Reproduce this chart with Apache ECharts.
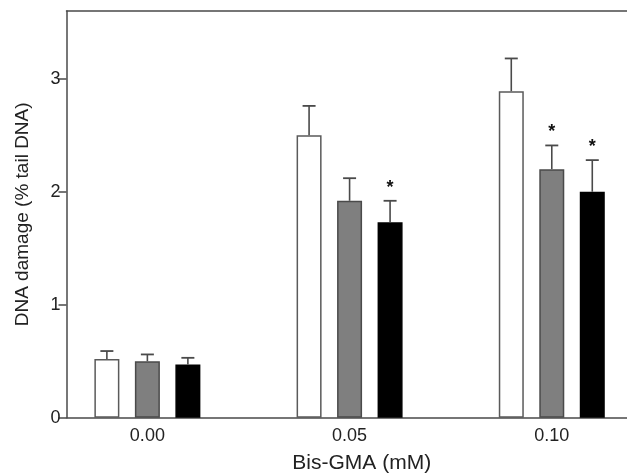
<!DOCTYPE html>
<html>
<head>
<meta charset="utf-8">
<script src="https://cdn.jsdelivr.net/npm/echarts@6/dist/echarts.min.js"></script>
<style>
  html, body { margin: 0; padding: 0; background: #fff; }
  #chart { width: 627px; height: 475px; }
</style>
</head>
<body>
<div id="chart"></div>
<script>
// 横轴分组 (Bis-GMA 浓度)
const categories = ['0.00', '0.05', '0.10'];
const positions = [0, 1, 2];
const yTicks = [0, 1, 2, 3];

// 三组柱子的均值和误差上端
const whiteMean = [0.52, 2.50, 2.89];
const whiteTop  = [0.59, 2.76, 3.18];
const grayMean  = [0.50, 1.92, 2.20];
const grayTop   = [0.56, 2.12, 2.41];
const blackMean = [0.47, 1.73, 2.00];
const blackTop  = [0.53, 1.92, 2.28];

// 显著性标记
const whiteStars = ['', '', ''];
const grayStars  = ['', '', '*'];
const blackStars = ['', '*', '*'];

const barWidth = 25;
const gapRatio = 0.62;
const axisColor = '#4a4a4a';
const textColor = '#222';
const font = 'Liberation Sans, Arial, sans-serif';

const groups = [
  { mean: whiteMean, top: whiteTop, stars: whiteStars, fill: '#ffffff', border: '#5a5a5a' },
  { mean: grayMean, top: grayTop, stars: grayStars, fill: '#7f7f7f', border: '#4a4a4a' },
  { mean: blackMean, top: blackTop, stars: blackStars, fill: '#000000', border: '#000000' }
];

const series = [];
groups.forEach(function (g) {
  series.push({
    type: 'bar',
    data: positions.map(function (p, i) { return [p, g.mean[i]]; }),
    barWidth: barWidth,
    barGap: (gapRatio * 100) + '%',
    itemStyle: { color: g.fill, borderColor: g.border, borderWidth: 1.5 }
  });
});

groups.forEach(function (g, gi) {
  const offset = (gi - 1) * barWidth * (1 + gapRatio);
  series.push({
    type: 'custom',
    z: 3,
    data: positions.map(function (p, i) { return [p, g.mean[i], g.top[i]]; }),
    renderItem: function (params, api) {
      const p0 = api.coord([api.value(0), api.value(1)]);
      const p1 = api.coord([api.value(0), api.value(2)]);
      const cx = p0[0] + offset;
      const children = [
        { type: 'line', shape: { x1: cx, y1: p0[1], x2: cx, y2: p1[1] },
          style: { stroke: '#4a4a4a', lineWidth: 1.6 } },
        { type: 'line', shape: { x1: cx - 6.5, y1: p1[1], x2: cx + 6.5, y2: p1[1] },
          style: { stroke: '#4a4a4a', lineWidth: 1.8 } }
      ];
      const star = g.stars[params.dataIndex];
      if (star) {
        children.push({
          type: 'text',
          style: { x: cx, y: p1[1] - 13, text: star, fill: '#111',
            font: 'bold 18px ' + font, align: 'center', verticalAlign: 'middle' }
        });
      }
      return { type: 'group', children: children };
    }
  });
});

const xMin = -0.4;
const xMax = 2.372;

const chart = echarts.init(document.getElementById('chart'));
chart.setOption({
  animation: false,
  backgroundColor: '#fff',
  grid: { left: 66.5, top: 11, bottom: 57.3, right: 0, outerBoundsMode: 'none' },
  xAxis: [{
    type: 'value',
    min: xMin,
    max: xMax,
    name: 'Bis-GMA (mM)',
    nameLocation: 'middle',
    nameGap: 35,
    nameTextStyle: { fontFamily: font, fontSize: 21, color: textColor, padding: [0, 0, 0, 30] },
    axisLine: { show: true, onZero: false, lineStyle: { color: axisColor, width: 1.5 } },
    axisTick: { show: false },
    splitLine: { show: false },
    axisLabel: {
      customValues: positions,
      formatter: function (v) { return categories[Math.round(v)]; },
      fontFamily: font, fontSize: 18, color: textColor, margin: 9
    }
  }, {
    // 上边框线
    type: 'value',
    position: 'top',
    min: xMin,
    max: xMax,
    axisLine: { show: true, onZero: false, lineStyle: { color: axisColor, width: 1.5 } },
    axisTick: { show: false },
    axisLabel: { show: false },
    splitLine: { show: false }
  }],
  yAxis: {
    type: 'value',
    min: 0,
    max: 3.6,
    name: 'DNA damage (% tail DNA)',
    nameLocation: 'middle',
    nameGap: 34,
    nameTextStyle: { fontFamily: font, fontSize: 19, color: textColor },
    axisLine: { show: true, onZero: false, lineStyle: { color: axisColor, width: 1.5 } },
    axisTick: { show: true, customValues: yTicks, length: 8, lineStyle: { color: axisColor, width: 1.5 } },
    splitLine: { show: false },
    axisLabel: {
      customValues: yTicks,
      fontFamily: font, fontSize: 18, color: textColor, margin: 6
    }
  },
  series: series
});
</script>
</body>
</html>
